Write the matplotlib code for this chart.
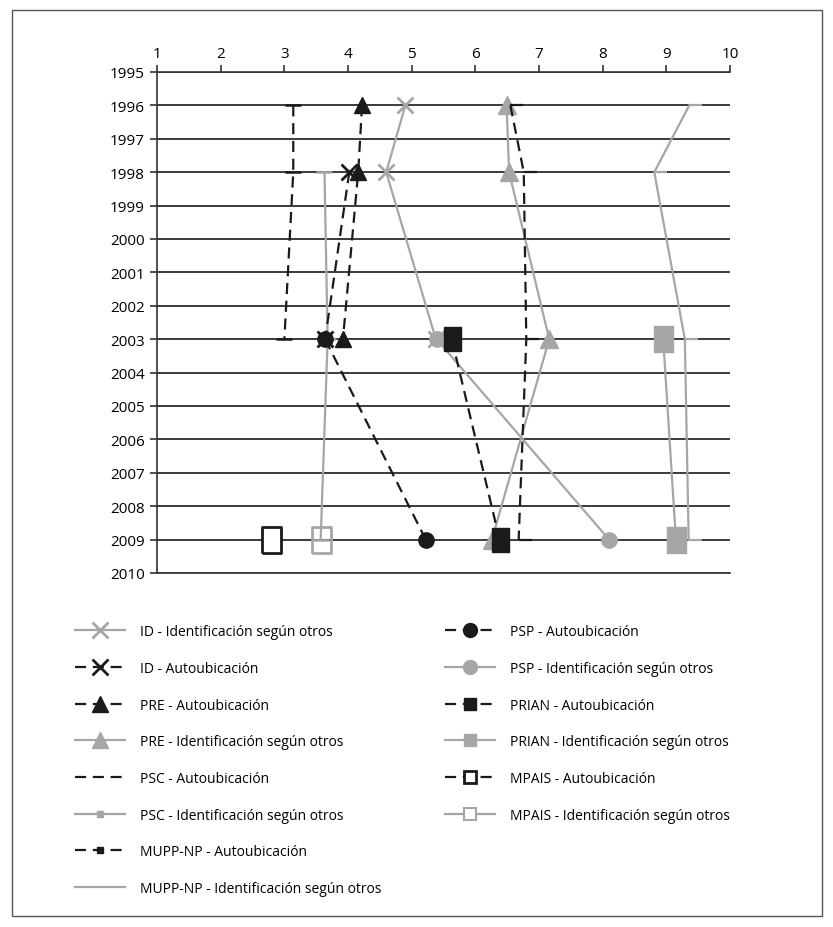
import matplotlib.pyplot as plt
from matplotlib.lines import Line2D
from matplotlib.patches import Rectangle

plt.rcParams['font.family'] = ['Open Sans', 'DejaVu Sans']

# axis ticks
x_ticks = list(range(1, 11))
year_ticks = list(range(1995, 2011))

# values (scale 1-10)
id_years = [1996, 1998, 2003]
id_otros = [4.90, 4.60, 5.38]
id_auto_years = [1998, 2003]
id_auto = [4.02, 3.64]

pre_years = [1996, 1998, 2003, 2009]
pre_otros = [6.49, 6.53, 7.16, 6.26]
pre_auto_years = [1996, 1998, 2003]
pre_auto = [4.22, 4.16, 3.92]

psc_auto_years = [1996, 1998, 2003]
psc_auto = [3.14, 3.14, 3.00]
psc_years = [1998, 2003, 2009]
psc_otros = [3.63, 3.68, 3.57]

mupp_years = [1996, 1998, 2003, 2009]
mupp_auto = [6.55, 6.76, 6.80, 6.68]
mupp_otros = [9.36, 8.81, 9.29, 9.35]

psp_years = [2003, 2009]
psp_auto = [3.64, 5.22]
psp_otros = [5.39, 8.10]

prian_years = [2003, 2009]
prian_auto = [5.63, 6.38]
prian_otros = [8.95, 9.15]

mpais_years = [2009]
mpais_auto = [2.79]
mpais_otros = [3.57]

BLACK = '#1a1a1a'
GRAY = '#a6a6a6'
DASH = (0, (5, 3))
rect = [(-0.36, -0.5), (0.36, -0.5), (0.36, 0.5), (-0.36, 0.5), (-0.36, -0.5)]

fig = plt.figure(figsize=(8.33, 9.28), dpi=100)
ax = fig.add_axes([0.1885, 0.3815, 0.6879, 0.5399])

# gray "segun otros" series
ax.plot(mupp_otros, mupp_years, color=GRAY, lw=1.6, marker=1, ms=9, mew=1.6)
ax.plot(psc_otros, psc_years, color=GRAY, lw=1.6, marker='_', ms=11, mew=1.8)
ax.plot(id_otros, id_years, color=GRAY, lw=1.6, marker='x', ms=12, mew=2)
ax.plot(pre_otros, pre_years, color=GRAY, lw=1.6, marker='^', ms=13)
ax.plot(psp_otros, psp_years, color=GRAY, lw=1.6, marker='o', ms=11)
ax.plot(prian_otros, prian_years, color=GRAY, lw=1.6, marker=rect, ms=19)
ax.plot(mpais_otros, mpais_years, color=GRAY, lw=1.6, marker=rect, ms=19,
        mfc='none', mew=2)

# black "autoubicacion" series
ax.plot(psc_auto, psc_auto_years, color=BLACK, lw=1.6, ls=DASH, marker='_', ms=11, mew=1.8)
ax.plot(mupp_auto, mupp_years, color=BLACK, lw=1.6, ls=DASH, marker=1, ms=9, mew=1.6)
ax.plot(id_auto, id_auto_years, color=BLACK, lw=1.6, ls=DASH, marker='x', ms=12, mew=2)
ax.plot(pre_auto, pre_auto_years, color=BLACK, lw=1.6, ls=DASH, marker='^', ms=12)
ax.plot(psp_auto, psp_years, color=BLACK, lw=1.6, ls=DASH, marker='o', ms=11)
ax.plot(prian_auto, prian_years, color=BLACK, lw=1.6, ls=DASH, marker=rect, ms=17)
ax.plot(mpais_auto, mpais_years, color=BLACK, lw=1.6, ls=DASH, marker=rect, ms=19,
        mfc='white', mew=2)

ax.set_xlim(1, 10)
ax.set_ylim(2010, 1995)
ax.xaxis.tick_top()
ax.set_xticks(x_ticks)
ax.set_yticks(year_ticks)
ax.tick_params(axis='both', labelsize=11, color='#333333', length=5, width=1.2)
ax.tick_params(axis='x', pad=3)
ax.tick_params(axis='y', pad=4)
ax.grid(axis='y', color=BLACK, lw=1.2)
ax.set_axisbelow(True)
ax.spines['right'].set_visible(False)
for s in ['top', 'left', 'bottom']:
    ax.spines[s].set_color('#333333')
    ax.spines[s].set_linewidth(1.2)

# legend, two columns
def handle(color, ls='-', marker=None, ms=8, **kw):
    return Line2D([], [], color=color, lw=1.6, ls=ls, marker=marker, ms=ms, **kw)

left_handles = [
    handle(GRAY, marker='x', ms=12, mew=2),
    handle(BLACK, ls=DASH, marker='x', ms=12, mew=2),
    handle(BLACK, ls=DASH, marker='^', ms=12),
    handle(GRAY, marker='^', ms=12),
    handle(BLACK, ls=DASH),
    handle(GRAY, marker='s', ms=4),
    handle(BLACK, ls=DASH, marker='s', ms=4),
    handle(GRAY),
]
left_labels = [
    'ID - Identificación según otros',
    'ID - Autoubicación',
    'PRE - Autoubicación',
    'PRE - Identificación según otros',
    'PSC - Autoubicación',
    'PSC - Identificación según otros',
    'MUPP-NP - Autoubicación',
    'MUPP-NP - Identificación según otros',
]
right_handles = [
    handle(BLACK, ls=DASH, marker='o', ms=10),
    handle(GRAY, marker='o', ms=10),
    handle(BLACK, ls=DASH, marker='s', ms=9),
    handle(GRAY, marker='s', ms=9),
    handle(BLACK, ls=DASH, marker='s', ms=9, mfc='white', mew=2),
    handle(GRAY, marker='s', ms=9, mfc='white', mew=1.5),
]
right_labels = [
    'PSP - Autoubicación',
    'PSP - Identificación según otros',
    'PRIAN - Autoubicación',
    'PRIAN - Identificación según otros',
    'MPAIS - Autoubicación',
    'MPAIS - Identificación según otros',
]

leg_kw = dict(loc='upper left', frameon=False, fontsize=10, handlelength=3.6,
              handletextpad=1.1, labelspacing=1.56, borderpad=0, borderaxespad=0)
fig.legend(left_handles, left_labels, bbox_to_anchor=(0.09, 0.3262), **leg_kw)
fig.legend(right_handles, right_labels, bbox_to_anchor=(0.534, 0.3262), **leg_kw)

# outer frame
fig.add_artist(Rectangle((12 / 833, 11 / 928), 810 / 833, 906 / 928,
                         transform=fig.transFigure, fill=False, ec='#555555', lw=1))

plt.savefig('out.png', dpi=100)
